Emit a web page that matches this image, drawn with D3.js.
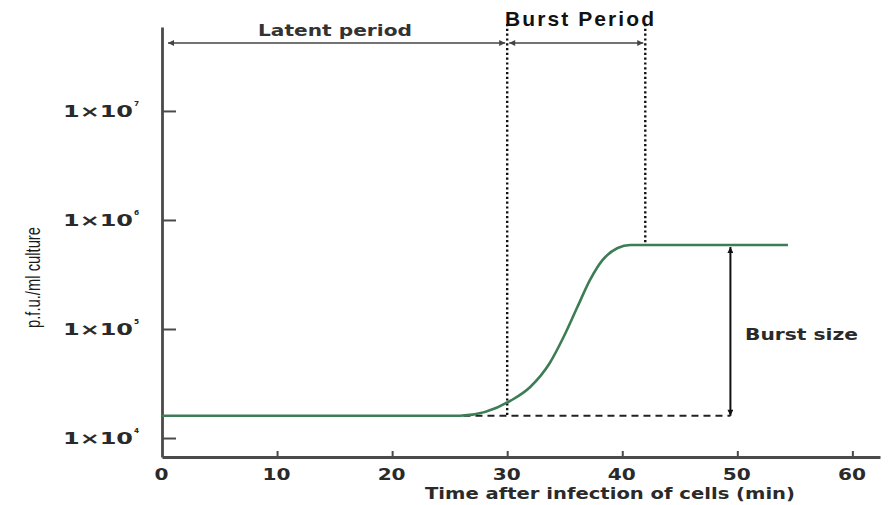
<!DOCTYPE html>
<html><head><meta charset="utf-8">
<script src="https://cdn.jsdelivr.net/npm/d3@7"></script>
<style>body{margin:0;background:#fff}svg{display:block}</style>
</head><body>
<svg id="c" width="895" height="505"></svg>
<script>
// data
const times = [0, 25.9, 30.3, 32.0, 33.7, 34.9, 36.1, 37.2, 38.3, 39.6, 40.7, 54.4];
const pfu = [1.6e4, 1.6e4, 2.2e4, 2.94e4, 4.88e4, 8.45e4, 1.59e5, 2.82e5, 4.3e5, 5.53e5, 5.9e5, 5.9e5];
const xTicks = [0, 10, 20, 30, 40, 50, 60];
const yTicks = [1e4, 1e5, 1e6, 1e7];
const yTickExp = ["⁴", "⁵", "⁶", "⁷"];
const latentEnd = 30, burstEnd = 42, burstSizeAt = 49.4;

const svg = d3.select("#c");
const x = d3.scaleLinear().domain([0, 62.4]).range([162, 880]);
const y = d3.scaleLog().domain([Math.pow(10, 3.826), Math.pow(10, 7.77)]).range([457, 27]);
const axisColor = "#4a4a4a", textColor = "#2a2a2a";
const font = "'DejaVu Sans', Verdana, sans-serif";

const defs = svg.append("defs");
function marker(id, fill) {
  defs.append("marker").attr("id", id).attr("viewBox", "0 0 10 10")
    .attr("refX", 10).attr("refY", 5).attr("markerWidth", 9).attr("markerHeight", 6)
    .attr("orient", "auto-start-reverse").attr("markerUnits", "userSpaceOnUse")
    .append("path").attr("d", "M0,0 L10,5 L0,10 Z").attr("fill", fill);
}
marker("arrG", "#444");
marker("arrK", "#111");

// axes
const xa = svg.append("g").attr("transform", `translate(0,${y.range()[0]})`)
  .call(d3.axisBottom(x).tickValues(xTicks).tickSizeInner(-6).tickSizeOuter(0).tickPadding(12));
const ya = svg.append("g").attr("transform", `translate(${x.range()[0]},0)`)
  .call(d3.axisLeft(y).tickValues(yTicks).tickSizeInner(-14).tickSizeOuter(0).tickPadding(14).tickFormat(() => ""));
[xa, ya].forEach(g => {
  g.select(".domain").attr("stroke", axisColor).attr("stroke-width", 2.8);
  g.selectAll(".tick line").attr("stroke", axisColor).attr("stroke-width", 2);
  g.selectAll("text").attr("fill", textColor).attr("font-family", font)
    .attr("font-weight", "bold").attr("font-size", 15.5);
});
xa.select(".tick line").remove();
xa.selectAll(".tick text").attr("x", -1)
  .attr("textLength", d => String(d).length * 14).attr("lengthAdjust", "spacingAndGlyphs");
ya.selectAll(".tick").each(function(d, i) {
  const t = d3.select(this).select("text");
  t.text("").attr("text-anchor", "start").attr("x", -99).attr("dy", "0.36em").attr("font-size", 16);
  t.append("tspan").attr("textLength", 70).attr("lengthAdjust", "spacingAndGlyphs").text("1×10");
  t.append("tspan").attr("font-size", 12).attr("dx", 1).attr("dy", -7).text(yTickExp[i]);
});

// axis titles
svg.append("text").attr("x", 425).attr("y", 499)
  .attr("font-family", font).attr("font-weight", "bold").attr("font-size", 15)
  .attr("fill", textColor).attr("textLength", 370).attr("lengthAdjust", "spacingAndGlyphs")
  .text("Time after infection of cells (min)");
svg.append("text").attr("transform", "translate(40,328) rotate(-90)")
  .attr("font-family", "'Liberation Sans Narrow', 'Liberation Sans', sans-serif").attr("font-size", 21)
  .attr("fill", "#1a1a1a")
  .attr("textLength", 101).attr("lengthAdjust", "spacingAndGlyphs")
  .text("p.f.u./ml culture");

// dotted vertical lines
const yBase = y(pfu[0]), yTop = y(pfu[pfu.length - 1]);
svg.append("line").attr("x1", x(latentEnd)).attr("x2", x(latentEnd)).attr("y1", 24).attr("y2", yBase)
  .attr("stroke", "#111").attr("stroke-width", 2.4).attr("stroke-dasharray", "2.2,2.6");
svg.append("line").attr("x1", x(burstEnd)).attr("x2", x(burstEnd)).attr("y1", 24).attr("y2", yTop)
  .attr("stroke", "#111").attr("stroke-width", 2.4).attr("stroke-dasharray", "2.2,2.6");

// dashed baseline
svg.append("line").attr("x1", x(26.2)).attr("x2", x(burstSizeAt)).attr("y1", yBase).attr("y2", yBase)
  .attr("stroke", "#222").attr("stroke-width", 2).attr("stroke-dasharray", "7,5");

// curve
svg.append("path").datum(times.map((t, i) => [t, pfu[i]]))
  .attr("d", d3.line().x(d => x(d[0])).y(d => y(d[1])).curve(d3.curveMonotoneX))
  .attr("fill", "none").attr("stroke", "#3d7d55").attr("stroke-width", 2.6);

// burst size arrow
svg.append("line").attr("x1", x(burstSizeAt)).attr("x2", x(burstSizeAt)).attr("y1", yTop + 2).attr("y2", yBase)
  .attr("stroke", "#111").attr("stroke-width", 2)
  .attr("marker-start", "url(#arrK)").attr("marker-end", "url(#arrK)");
svg.append("text").attr("x", 745).attr("y", 340).attr("font-family", font).attr("font-weight", "bold")
  .attr("font-size", 15).attr("fill", textColor).attr("textLength", 113).attr("lengthAdjust", "spacingAndGlyphs")
  .text("Burst size");

// top arrows
const yArr = 43;
svg.append("line").attr("x1", x(0) + 6).attr("x2", x(latentEnd) - 2).attr("y1", yArr).attr("y2", yArr)
  .attr("stroke", "#444").attr("stroke-width", 1.6)
  .attr("marker-start", "url(#arrG)").attr("marker-end", "url(#arrG)");
svg.append("line").attr("x1", x(latentEnd) + 2).attr("x2", x(burstEnd) - 2).attr("y1", yArr).attr("y2", yArr)
  .attr("stroke", "#444").attr("stroke-width", 1.6)
  .attr("marker-start", "url(#arrG)").attr("marker-end", "url(#arrG)");
svg.append("text").attr("x", 258).attr("y", 36).attr("font-family", font)
  .attr("font-weight", "bold").attr("font-size", 15).attr("fill", "#333")
  .attr("textLength", 154).attr("lengthAdjust", "spacingAndGlyphs").text("Latent period");
svg.append("text").attr("x", 505).attr("y", 26)
  .attr("font-family", "'Liberation Sans', Arial, sans-serif").attr("font-weight", "bold")
  .attr("font-size", 21).attr("fill", "#111").attr("textLength", 149).attr("lengthAdjust", "spacing")
  .text("Burst Period");
</script>
</body></html>
